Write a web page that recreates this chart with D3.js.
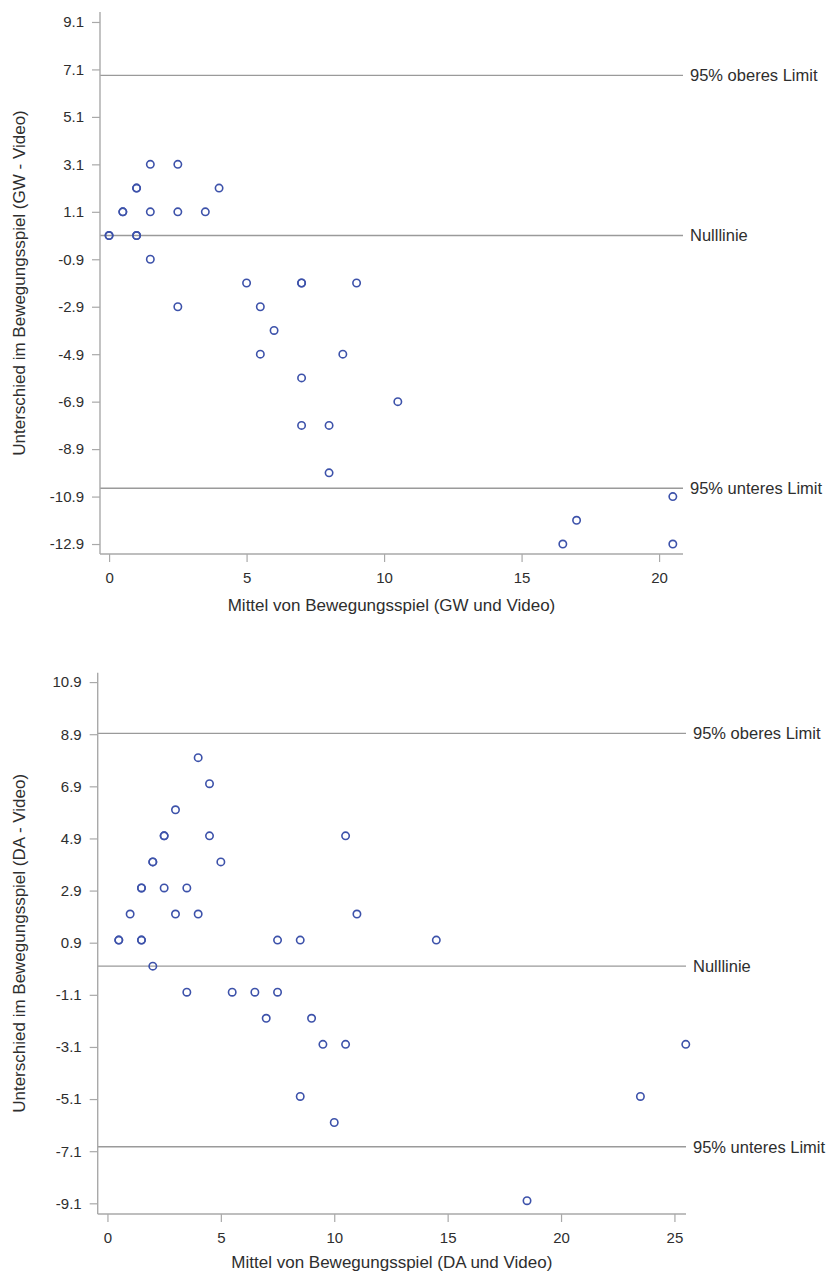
<!DOCTYPE html>
<html>
<head>
<meta charset="utf-8">
<script src="https://cdn.jsdelivr.net/npm/d3@7"></script>
<style>
  html, body { margin: 0; padding: 0; background: #fff; }
  svg { display: block; font-family: "Liberation Sans", Arial, sans-serif; }
</style>
</head>
<body>
<svg id="chart" width="827" height="1275"></svg>
<script>
// ---- Bland-Altman data: GW vs Video ----
const gwMean = [0, 0, 0.5, 0.5, 1, 1, 1, 1, 1.5, 1.5, 1.5, 2.5, 2.5, 2.5, 3.5, 4,
                5, 7, 7, 9, 5.5, 6, 5.5, 8.5, 7, 10.5, 7, 8, 8, 20.5, 17, 16.5, 20.5];
const gwDiff = [0.1, 0.1, 1.1, 1.1, 2.1, 2.1, 0.1, 0.1, 3.1, 1.1, -0.9, 3.1, 1.1, -2.9, 1.1, 2.1,
                -1.9, -1.9, -1.9, -1.9, -2.9, -3.9, -4.9, -4.9, -5.9, -6.9, -7.9, -7.9, -9.9, -10.9, -11.9, -12.9, -12.9];
const gwRefValues = [6.85, 0.1, -10.55];
const gwXTicks = [0, 5, 10, 15, 20];
const gwYTicks = [9.1, 7.1, 5.1, 3.1, 1.1, -0.9, -2.9, -4.9, -6.9, -8.9, -10.9, -12.9];

// ---- Bland-Altman data: DA vs Video ----
const daMean = [4, 4.5, 3, 2.5, 2.5, 4.5, 2, 2, 5, 1.5, 1.5, 2.5, 3.5, 1, 3, 4, 0.5, 0.5, 1.5, 1.5,
                7.5, 8.5, 10.5, 11, 14.5, 2, 3.5, 5.5, 6.5, 7.5, 7, 9, 9.5, 10.5, 8.5, 10, 25.5, 23.5, 18.5];
const daDiff = [8, 7, 6, 5, 5, 5, 4, 4, 4, 3, 3, 3, 3, 2, 2, 2, 1, 1, 1, 1,
                1, 1, 5, 2, 1, 0, -1, -1, -1, -1, -2, -2, -3, -3, -5, -6, -3, -5, -9];
const daRefValues = [8.93, 0, -6.93];
const daXTicks = [0, 5, 10, 15, 20, 25];
const daYTicks = [10.9, 8.9, 6.9, 4.9, 2.9, 0.9, -1.1, -3.1, -5.1, -7.1, -9.1];

// shared labels
const refLabels = ["95% oberes Limit", "Nulllinie", "95% unteres Limit"];

const svg = d3.select("#chart");

const MARKER = "#3d52aa";
const AXIS = "#a9a9a9";
const REF = "#9a9a9a";
const TEXT = "#2e2e2e";

function drawPanel(cfg) {
  const x = d3.scaleLinear().domain(cfg.xDomain).range([cfg.left, cfg.right]);
  const y = d3.scaleLinear().domain(cfg.yDomain).range([cfg.bottom, cfg.top]);
  const g = svg.append("g");

  // reference lines
  g.selectAll("line.ref").data(cfg.refs).join("line")
    .attr("class", "ref")
    .attr("x1", cfg.left).attr("x2", cfg.right)
    .attr("y1", d => y(d)).attr("y2", d => y(d))
    .attr("stroke", REF).attr("stroke-width", 1.4);

  g.selectAll("text.reflab").data(cfg.refs).join("text")
    .attr("class", "reflab")
    .attr("x", cfg.right + 7)
    .attr("y", d => y(d))
    .attr("dy", "0.35em")
    .attr("font-size", 16.5)
    .attr("fill", TEXT)
    .text((d, i) => refLabels[i]);

  // axes
  const xAxis = d3.axisBottom(x).tickValues(cfg.xTicks).tickSize(8).tickSizeOuter(0).tickPadding(10)
    .tickFormat(d3.format("d"));
  const yAxis = d3.axisLeft(y).tickValues(cfg.yTicks).tickSize(8).tickSizeOuter(0).tickPadding(8)
    .tickFormat(d => d.toFixed(1));

  const gx = g.append("g").attr("transform", `translate(0,${cfg.bottom})`).call(xAxis);
  const gy = g.append("g").attr("transform", `translate(${cfg.left},0)`).call(yAxis);
  [gx, gy].forEach(a => {
    a.select(".domain").attr("stroke", AXIS).attr("stroke-width", 1.4);
    a.selectAll(".tick line").attr("stroke", AXIS).attr("stroke-width", 1.2);
    a.selectAll(".tick text").attr("fill", TEXT).attr("font-size", 15)
      .attr("font-family", "Liberation Sans, Arial, sans-serif");
  });
  // axis lines span the full plot area
  gx.select(".domain").attr("d", `M${cfg.left},0H${cfg.right}`);
  gy.select(".domain").attr("d", `M0,${cfg.top}V${cfg.bottom}`);

  // axis titles
  g.append("text")
    .attr("x", (cfg.left + cfg.right) / 2)
    .attr("y", cfg.bottom + cfg.xTitleOffset)
    .attr("text-anchor", "middle")
    .attr("font-size", 17)
    .attr("fill", TEXT)
    .text(cfg.xTitle);

  g.append("text")
    .attr("transform", `translate(25,${(cfg.top + cfg.bottom) / 2}) rotate(-90)`)
    .attr("text-anchor", "middle")
    .attr("font-size", 17)
    .attr("fill", TEXT)
    .text(cfg.yTitle);

  // markers
  const pts = cfg.xs.map((v, i) => ({ x: v, y: cfg.ys[i] }));
  g.selectAll("circle").data(pts).join("circle")
    .attr("cx", d => x(d.x))
    .attr("cy", d => y(d.y))
    .attr("r", 3.7)
    .attr("fill", "none")
    .attr("stroke", MARKER)
    .attr("stroke-width", 1.6);
}

drawPanel({
  left: 100, right: 683, top: 12, bottom: 554,
  xDomain: [-0.33, 20.87], yDomain: [-13.32, 9.52],
  xTicks: gwXTicks, yTicks: gwYTicks, refs: gwRefValues,
  xs: gwMean, ys: gwDiff, xTitleOffset: 57,
  xTitle: "Mittel von Bewegungsspiel (GW und Video)",
  yTitle: "Unterschied im Bewegungsspiel (GW - Video)"
});

drawPanel({
  left: 97.7, right: 686, top: 672.7, bottom: 1214,
  xDomain: [-0.43, 25.51], yDomain: [-9.51, 11.26],
  xTicks: daXTicks, yTicks: daYTicks, refs: daRefValues,
  xs: daMean, ys: daDiff, xTitleOffset: 54,
  xTitle: "Mittel von Bewegungsspiel (DA und Video)",
  yTitle: "Unterschied im Bewegungsspiel (DA - Video)"
});
</script>
</body>
</html>
